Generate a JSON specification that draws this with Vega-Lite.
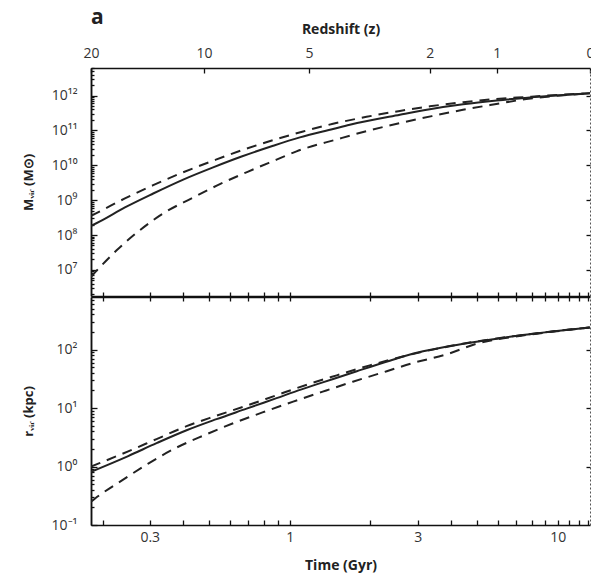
{
  "$schema": "https://vega.github.io/schema/vega-lite/v6.json",
  "background": "white",
  "padding": {"left": 22, "top": 7, "right": 0, "bottom": 5},
  "spacing": 1,
  "bounds": "flush",
  "config": {
    "font": "Open Sans",
    "view": {"stroke": null},
    "axis": {
      "grid": false,
      "domainColor": "#111",
      "domainWidth": 1.5,
      "tickColor": "#111",
      "tickWidth": 1.3,
      "labelColor": "#333",
      "labelFont": "Open Sans",
      "labelFontSize": 14,
      "titleFont": "Open Sans",
      "titleFontSize": 13,
      "titleFontWeight": "bold",
      "titleColor": "#222",
      "labelFlush": false,
      "labelOverlap": false
    }
  },
  "datasets": {
    "mvir": [
      {"t": 0.181, "v": 1.82e8, "s": "mean"},
      {"t": 0.1955, "v": 2.45e8, "s": "mean"},
      {"t": 0.2423, "v": 6.17e8, "s": "mean"},
      {"t": 0.309, "v": 1.55e9, "s": "mean"},
      {"t": 0.4, "v": 3.89e9, "s": "mean"},
      {"t": 0.5172, "v": 8.71e9, "s": "mean"},
      {"t": 0.6605, "v": 1.78e10, "s": "mean"},
      {"t": 0.8663, "v": 3.63e10, "s": "mean"},
      {"t": 1.09, "v": 6.31e10, "s": "mean"},
      {"t": 1.45, "v": 1.1e11, "s": "mean"},
      {"t": 1.674, "v": 1.45e11, "s": "mean"},
      {"t": 2.575, "v": 2.82e11, "s": "mean"},
      {"t": 3.33, "v": 4.07e11, "s": "mean"},
      {"t": 4.43, "v": 5.62e11, "s": "mean"},
      {"t": 5.92, "v": 7.24e11, "s": "mean"},
      {"t": 9.0, "v": 9.55e11, "s": "mean"},
      {"t": 13.2, "v": 1.17e12, "s": "mean"},
      {"t": 0.181, "v": 3.55e8, "s": "upper"},
      {"t": 0.1955, "v": 4.79e8, "s": "upper"},
      {"t": 0.2423, "v": 1.12e9, "s": "upper"},
      {"t": 0.309, "v": 2.69e9, "s": "upper"},
      {"t": 0.4, "v": 6.31e9, "s": "upper"},
      {"t": 0.5172, "v": 1.35e10, "s": "upper"},
      {"t": 0.6605, "v": 2.69e10, "s": "upper"},
      {"t": 0.8663, "v": 5.25e10, "s": "upper"},
      {"t": 1.121, "v": 9.33e10, "s": "upper"},
      {"t": 1.45, "v": 1.55e11, "s": "upper"},
      {"t": 1.933, "v": 2.45e11, "s": "upper"},
      {"t": 2.575, "v": 3.63e11, "s": "upper"},
      {"t": 3.33, "v": 4.9e11, "s": "upper"},
      {"t": 4.43, "v": 6.46e11, "s": "upper"},
      {"t": 5.82, "v": 7.94e11, "s": "upper"},
      {"t": 7.64, "v": 9.12e11, "s": "upper"},
      {"t": 10.2, "v": 1.05e12, "s": "upper"},
      {"t": 13.2, "v": 1.17e12, "s": "upper"},
      {"t": 0.181, "v": 6.31e6, "s": "lower"},
      {"t": 0.187, "v": 8.32e6, "s": "lower"},
      {"t": 0.2256, "v": 3.63e7, "s": "lower"},
      {"t": 0.2716, "v": 1.26e8, "s": "lower"},
      {"t": 0.3417, "v": 4.47e8, "s": "lower"},
      {"t": 0.4297, "v": 1.12e9, "s": "lower"},
      {"t": 0.548, "v": 2.88e9, "s": "lower"},
      {"t": 0.6991, "v": 6.61e9, "s": "lower"},
      {"t": 0.8921, "v": 1.45e10, "s": "lower"},
      {"t": 1.059, "v": 2.51e10, "s": "lower"},
      {"t": 1.51, "v": 5.62e10, "s": "lower"},
      {"t": 1.954, "v": 9.77e10, "s": "lower"},
      {"t": 2.575, "v": 1.62e11, "s": "lower"},
      {"t": 3.39, "v": 2.57e11, "s": "lower"},
      {"t": 4.43, "v": 3.89e11, "s": "lower"},
      {"t": 5.82, "v": 5.62e11, "s": "lower"},
      {"t": 7.64, "v": 7.94e11, "s": "lower"},
      {"t": 10.2, "v": 1.0e12, "s": "lower"},
      {"t": 13.2, "v": 1.17e12, "s": "lower"}
    ],
    "rvir": [
      {"t": 0.181, "v": 0.813, "s": "mean"},
      {"t": 0.2492, "v": 1.51, "s": "mean"},
      {"t": 0.318, "v": 2.51, "s": "mean"},
      {"t": 0.4117, "v": 4.17, "s": "mean"},
      {"t": 0.5326, "v": 6.46, "s": "mean"},
      {"t": 0.6895, "v": 9.77, "s": "mean"},
      {"t": 0.8921, "v": 14.8, "s": "mean"},
      {"t": 1.106, "v": 20.9, "s": "mean"},
      {"t": 1.327, "v": 27.5, "s": "mean"},
      {"t": 1.778, "v": 42.7, "s": "mean"},
      {"t": 2.361, "v": 64.6, "s": "mean"},
      {"t": 3.003, "v": 89.1, "s": "mean"},
      {"t": 3.954, "v": 115, "s": "mean"},
      {"t": 5.576, "v": 148, "s": "mean"},
      {"t": 7.403, "v": 178, "s": "mean"},
      {"t": 9.915, "v": 209, "s": "mean"},
      {"t": 13.2, "v": 240, "s": "mean"},
      {"t": 0.181, "v": 1.0, "s": "upper"},
      {"t": 0.1926, "v": 1.12, "s": "upper"},
      {"t": 0.2492, "v": 1.82, "s": "upper"},
      {"t": 0.318, "v": 2.95, "s": "upper"},
      {"t": 0.4117, "v": 4.9, "s": "upper"},
      {"t": 0.5326, "v": 7.41, "s": "upper"},
      {"t": 0.6895, "v": 11.0, "s": "upper"},
      {"t": 0.8921, "v": 16.6, "s": "upper"},
      {"t": 1.157, "v": 25.1, "s": "upper"},
      {"t": 1.497, "v": 36.3, "s": "upper"},
      {"t": 1.988, "v": 53.7, "s": "upper"},
      {"t": 2.575, "v": 74.1, "s": "upper"},
      {"t": 3.417, "v": 100, "s": "upper"},
      {"t": 4.695, "v": 132, "s": "upper"},
      {"t": 7.403, "v": 178, "s": "upper"},
      {"t": 13.2, "v": 240, "s": "upper"},
      {"t": 0.181, "v": 0.251, "s": "lower"},
      {"t": 0.187, "v": 0.282, "s": "lower"},
      {"t": 0.2355, "v": 0.575, "s": "lower"},
      {"t": 0.296, "v": 1.12, "s": "lower"},
      {"t": 0.3724, "v": 2.04, "s": "lower"},
      {"t": 0.4818, "v": 3.47, "s": "lower"},
      {"t": 0.6143, "v": 5.5, "s": "lower"},
      {"t": 0.7951, "v": 8.51, "s": "lower"},
      {"t": 1.029, "v": 12.9, "s": "lower"},
      {"t": 1.327, "v": 19.1, "s": "lower"},
      {"t": 1.718, "v": 28.2, "s": "lower"},
      {"t": 2.301, "v": 42.7, "s": "lower"},
      {"t": 2.877, "v": 58.9, "s": "lower"},
      {"t": 3.854, "v": 83.2, "s": "lower"},
      {"t": 4.986, "v": 126, "s": "lower"},
      {"t": 7.403, "v": 174, "s": "lower"},
      {"t": 9.915, "v": 206, "s": "lower"},
      {"t": 13.2, "v": 240, "s": "lower"}
    ]
  },
  "vconcat": [
    {
      "width": 499,
      "height": 228,
      "title": {"text": "a", "anchor": "start", "frame": "group", "fontSize": 21, "fontWeight": "bold", "font": "Open Sans", "color": "#222", "offset": 0, "dy": 6},
      "data": {"name": "mvir"},
      "resolve": {"axis": {"x": "independent", "y": "independent"}},
      "layer": [
        {
          "transform": [{"filter": "datum.s == 'mean'"}],
          "mark": {"type": "line", "color": "#222", "strokeWidth": 2, "clip": true, "interpolate": "monotone"},
          "encoding": {
            "x": {"field": "t", "type": "quantitative",
              "scale": {"type": "log", "domain": [0.181, 13.2], "nice": false},
              "axis": {"orient": "top", "title": "Redshift (z)", "titleFontSize": 14, "titlePadding": 10,
                "values": [0.181, 0.478, 1.18, 3.33, 5.92, 13.2],
                "labelExpr": "datum.value < 0.3 ? '20' : datum.value < 0.8 ? '10' : datum.value < 2 ? '5' : datum.value < 4 ? '2' : datum.value < 8 ? '1' : '0'",
                "tickSize": -5, "labelPadding": 13}},
            "y": {"field": "v", "type": "quantitative",
              "scale": {"type": "log", "domain": [1.78e6, 6.17e12], "nice": false},
              "axis": {"orient": "left", "title": "Mᵥᵢᵣ (M⊙)", "titlePadding": 16,
                "values": [1e7, 1e8, 1e9, 1e10, 1e11, 1e12],
                "labelExpr": "['10⁷','10⁸','10⁹','10¹⁰','10¹¹','10¹²'][round(log(datum.value)/LN10) - 7]",
                "tickSize": -6, "labelPadding": 20}}
          }
        },
        {
          "transform": [{"filter": "datum.s == 'upper'"}],
          "mark": {"type": "line", "color": "#222", "strokeWidth": 2, "strokeDash": [10, 7], "clip": true, "interpolate": "monotone"},
          "encoding": {
            "x": {"field": "t", "type": "quantitative",
              "scale": {"type": "log", "domain": [0.181, 13.2], "nice": false},
              "axis": {"orient": "bottom", "title": null, "labels": false,
                "values": [0.2, 0.3, 0.4, 0.5, 0.6, 0.7, 0.8, 0.9, 1, 2, 3, 4, 5, 6, 7, 8, 9, 10, 11, 12, 13],
                "tickSize": -4}},
            "y": {"field": "v", "type": "quantitative",
              "scale": {"type": "log", "domain": [1.78e6, 6.17e12], "nice": false},
              "axis": {"orient": "left", "title": null, "labels": false,
                "values": [2e6,3e6,4e6,5e6,6e6,7e6,8e6,9e6,2e7,3e7,4e7,5e7,6e7,7e7,8e7,9e7,2e8,3e8,4e8,5e8,6e8,7e8,8e8,9e8,2e9,3e9,4e9,5e9,6e9,7e9,8e9,9e9,2e10,3e10,4e10,5e10,6e10,7e10,8e10,9e10,2e11,3e11,4e11,5e11,6e11,7e11,8e11,9e11,2e12,3e12,4e12,5e12,6e12],
                "tickSize": -3}}
          }
        },
        {
          "transform": [{"filter": "datum.s == 'lower'"}],
          "mark": {"type": "line", "color": "#222", "strokeWidth": 2, "strokeDash": [10, 7], "clip": true, "interpolate": "monotone"},
          "encoding": {
            "x": {"field": "t", "type": "quantitative",
              "scale": {"type": "log", "domain": [0.181, 13.2], "nice": false},
              "axis": null},
            "y": {"field": "v", "type": "quantitative",
              "scale": {"type": "log", "domain": [1.78e6, 6.17e12], "nice": false},
              "axis": {"orient": "right", "title": null, "labels": false,
                "values": [1e7, 1e8, 1e9, 1e10, 1e11, 1e12],
                "domainDash": [2, 2], "domainWidth": 1, "domainColor": "#555",
                "tickSize": -4}}
          }
        }
      ]
    },
    {
      "width": 499,
      "height": 228,
      "data": {"name": "rvir"},
      "resolve": {"axis": {"x": "independent", "y": "independent"}},
      "layer": [
        {
          "transform": [{"filter": "datum.s == 'mean'"}],
          "mark": {"type": "line", "color": "#222", "strokeWidth": 2, "clip": true, "interpolate": "monotone"},
          "encoding": {
            "x": {"field": "t", "type": "quantitative",
              "scale": {"type": "log", "domain": [0.181, 13.2], "nice": false},
              "axis": {"orient": "bottom", "title": "Time (Gyr)", "titleFontSize": 14, "titlePadding": 14,
                "values": [0.2, 0.3, 0.4, 0.5, 0.6, 0.7, 0.8, 0.9, 1, 2, 3, 4, 5, 6, 7, 8, 9, 10, 11, 12, 13],
                "labelExpr": "datum.value == 0.3 ? '0.3' : datum.value == 1 ? '1' : datum.value == 3 ? '3' : datum.value == 10 ? '10' : ''",
                "tickSize": -5, "labelPadding": 10}},
            "y": {"field": "v", "type": "quantitative",
              "scale": {"type": "log", "domain": [0.1, 794], "nice": false},
              "axis": {"orient": "left", "title": "rᵥᵢᵣ (kpc)", "titlePadding": 16,
                "values": [0.1, 1, 10, 100],
                "labelExpr": "['10⁻¹','10⁰','10¹','10²'][round(log(datum.value)/LN10) + 1]",
                "tickSize": -6, "labelPadding": 20}}
          }
        },
        {
          "transform": [{"filter": "datum.s == 'upper'"}],
          "mark": {"type": "line", "color": "#222", "strokeWidth": 2, "strokeDash": [10, 7], "clip": true, "interpolate": "monotone"},
          "encoding": {
            "x": {"field": "t", "type": "quantitative",
              "scale": {"type": "log", "domain": [0.181, 13.2], "nice": false},
              "axis": {"orient": "top", "title": null, "labels": false,
                "values": [0.2, 0.3, 0.4, 0.5, 0.6, 0.7, 0.8, 0.9, 1, 2, 3, 4, 5, 6, 7, 8, 9, 10, 11, 12, 13],
                "tickSize": -4}},
            "y": {"field": "v", "type": "quantitative",
              "scale": {"type": "log", "domain": [0.1, 794], "nice": false},
              "axis": {"orient": "left", "title": null, "labels": false,
                "values": [0.2,0.3,0.4,0.5,0.6,0.7,0.8,0.9,2,3,4,5,6,7,8,9,20,30,40,50,60,70,80,90,200,300,400,500,600,700],
                "tickSize": -3}}
          }
        },
        {
          "transform": [{"filter": "datum.s == 'lower'"}],
          "mark": {"type": "line", "color": "#222", "strokeWidth": 2, "strokeDash": [10, 7], "clip": true, "interpolate": "monotone"},
          "encoding": {
            "x": {"field": "t", "type": "quantitative",
              "scale": {"type": "log", "domain": [0.181, 13.2], "nice": false},
              "axis": null},
            "y": {"field": "v", "type": "quantitative",
              "scale": {"type": "log", "domain": [0.1, 794], "nice": false},
              "axis": {"orient": "right", "title": null, "labels": false,
                "values": [1, 10, 100],
                "domainDash": [2, 2], "domainWidth": 1, "domainColor": "#555",
                "tickSize": -4}}
          }
        }
      ]
    }
  ]
}
